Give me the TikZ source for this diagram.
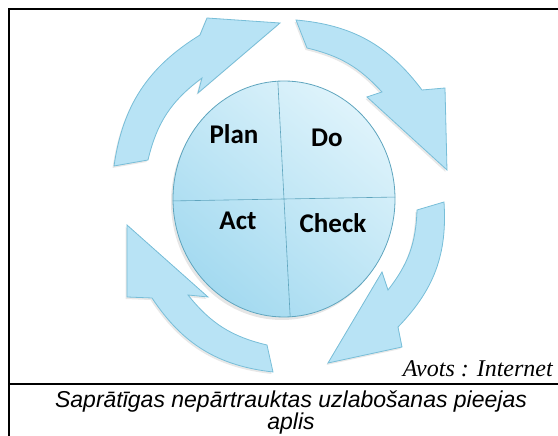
\documentclass[tikz,border=0pt]{standalone}
\usepackage{fontspec}
\setmainfont{Liberation Serif}
\newfontfamily\wheelfont{Carlito}
\newfontfamily\capfont{Liberation Sans}
\usetikzlibrary{shapes.geometric}
\usetikzlibrary{shadows}
\definecolor{ringblue}{RGB}{184,227,245}
\definecolor{ringedge}{RGB}{120,190,216}
\definecolor{wheellight}{RGB}{222,243,251}
\definecolor{wheeldark}{RGB}{164,218,240}
\definecolor{wheeledge}{RGB}{95,165,190}
\tikzset{
  cyclearrow/.style={fill=ringblue, draw=ringedge, line width=0.8pt,
    drop shadow={opacity=0.18, shadow xshift=-1.5pt, shadow yshift=-2pt}},
  phase/.style={font=\wheelfont\bfseries\fontsize{27}{30}\selectfont, text=black, anchor=base},
  divider/.style={draw=wheeledge, line width=0.6pt},
  frameline/.style={line width=2pt},
}

\begin{document}
\begin{tikzpicture}[x=1pt,y=1pt]
  \useasboundingbox (0,0) rectangle (558,436);
  \draw[frameline] (9,0) -- (9,427) -- (558,427);
  \draw[frameline] (9,52) -- (558,52);

  \path[cyclearrow] (114,270) -- (148,276) to[bend left=20] (202,358) -- (198,343)
    -- (280,413) -- (207,418) -- (200,401) to[bend right=25] (114,270) -- cycle;
  \path[cyclearrow] (296,416) -- (307,388) to[bend left=17] (382,344) -- (367,339)
    -- (447,266) -- (445,348) -- (422,346) to[bend right=24] (296,416) -- cycle;
  \path[cyclearrow] (444,234) -- (417,226) to[bend left=18] (388,146) -- (382,164)
    -- (328,73) -- (402,89) -- (398,109) to[bend right=24] (444,234) -- cycle;
  \path[cyclearrow] (273,64) -- (267,91) to[bend left=19] (188,141) -- (208,139)
    -- (127,211) -- (127,139) -- (152,138) to[bend right=25] (273,64) -- cycle;

  \node[ellipse, minimum width=222pt, minimum height=236pt, inner sep=0pt,
    draw=wheeledge, line width=0.8pt, top color=wheellight, bottom color=wheeldark,
    shading angle=-40, drop shadow={opacity=0.2, shadow xshift=-2pt, shadow yshift=-3pt}]
    (wheel) at (284,237) {};
  \draw[divider] (wheel.93) -- (wheel.273);
  \draw[divider] (wheel.181) -- (wheel.1);

  \node[phase] (plan) at (234,292) {Plan};
  \node[phase] (do) at (327,289) {Do};
  \node[phase] (act) at (238,206) {Act};
  \node[phase] (check) at (333,203) {Check};

  \node[anchor=base east, inner sep=0pt, font=\itshape\fontsize{24}{28}\selectfont]
    (source) at (553,59) {Avots : Internet};
  \node[anchor=base, inner sep=0pt, font=\capfont\itshape\fontsize{23}{26}\selectfont]
    (caption) at (291,28) {Saprātīgas nepārtrauktas uzlabošanas pieejas};
  \node[anchor=base, inner sep=0pt, font=\capfont\itshape\fontsize{23}{26}\selectfont]
    (captionend) at (291,6) {aplis};
\end{tikzpicture}
\end{document}
